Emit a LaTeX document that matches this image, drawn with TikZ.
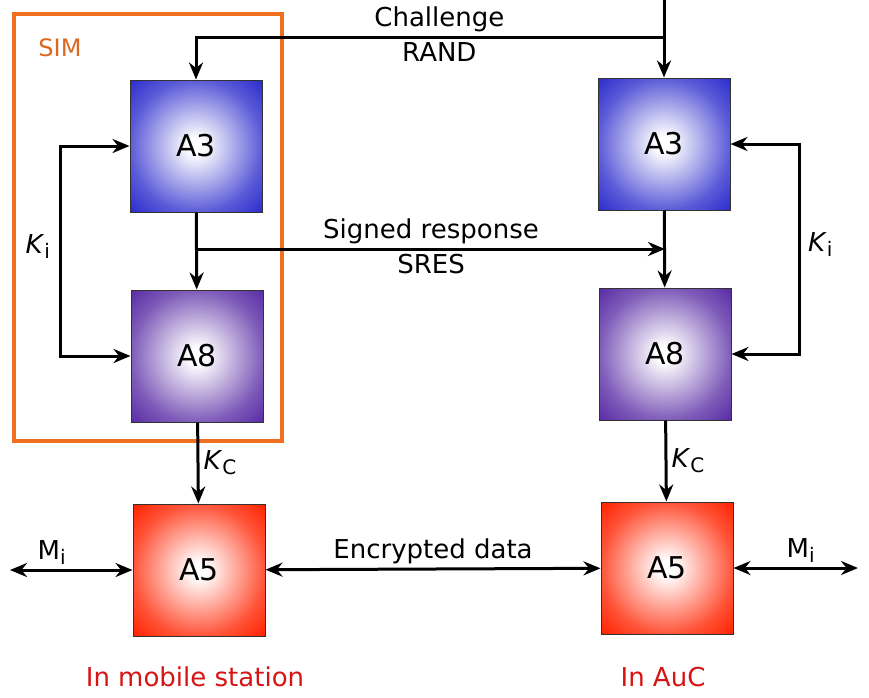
\documentclass[tikz,border=0pt]{standalone}
\usepackage{fontspec}
\setmainfont{DejaVu Sans}
\usetikzlibrary{arrows.meta}

\definecolor{simorange}{RGB}{240,112,32}
\definecolor{athree}{RGB}{45,45,205}
\definecolor{aeight}{RGB}{90,45,165}
\definecolor{afive}{RGB}{255,35,0}
\definecolor{placered}{RGB}{215,20,20}

\pgfdeclareradialshading{athreeglow}{\pgfpoint{0bp}{0bp}}{color(0bp)=(white); color(3bp)=(white); color(25bp)=(athree!78!white); color(35bp)=(athree); color(50bp)=(athree)}
\pgfdeclareradialshading{aeightglow}{\pgfpoint{0bp}{0bp}}{color(0bp)=(white); color(3bp)=(white); color(25bp)=(aeight!78!white); color(35bp)=(aeight); color(50bp)=(aeight)}
\pgfdeclareradialshading{afiveglow}{\pgfpoint{0bp}{0bp}}{color(0bp)=(white); color(3bp)=(white); color(25bp)=(afive!78!white); color(35bp)=(afive); color(50bp)=(afive)}

\newcommand\lowidx[1]{\raisebox{-0.35ex}{\fontsize{20}{20}\selectfont #1}}

\begin{document}
\begin{tikzpicture}[x=1pt,y=-1pt,line width=3pt,
  >={Stealth[length=17pt,width=14pt]},
  algobox/.style={draw=black!80,line width=1pt,minimum size=132pt,inner sep=0pt,font=\fontsize{30}{30}\selectfont},
  lbl/.style={inner sep=4pt,font=\fontsize{26}{28}\selectfont},
  placetext/.style={text=placered,font=\fontsize{26}{28}\selectfont}]
\useasboundingbox (0,0) rectangle (869,697);

%% SIM frame
\draw [simorange, line width=4.5pt] (14,14) rectangle (282,441);
\node [text=simorange!92!black, font=\fontsize{24}{26}\selectfont] (simlabel) at (60,48) {SIM};

%% mobile station side
\node [algobox, shading=athreeglow] (msA3) at (196,146) {A3};
\node [algobox, shading=aeightglow] (msA8) at (197,356) {A8};
\node [algobox, shading=afiveglow] (msA5) at (199,570) {A5};

%% AuC side
\node [algobox, shading=athreeglow] (aucA3) at (664,144) {A3};
\node [algobox, shading=aeightglow] (aucA8) at (665,354) {A8};
\node [algobox, shading=afiveglow] (aucA5) at (667,568) {A5};

\coordinate (chtop) at (664,0);
\coordinate (chsplit) at (664,37);
\coordinate (sresL) at (197,249);
\coordinate (sresR) at (665,249);
\coordinate (miL) at (10,570);
\coordinate (miR) at (858,568);

%challenge
\draw [->] (chtop)--(aucA3);
\draw [->] (chsplit)--(chsplit -| msA3.north)
  node[lbl, pos=0.48, above]{Challenge}
  node[lbl, pos=0.48, below]{RAND} --(msA3);

%signed response
\draw [->] (msA3)--(msA8);
\draw [->] (aucA3)--(aucA8);
\draw [->] (sresL)--(sresR)
  node[lbl, pos=0.5, above]{Signed response}
  node[lbl, pos=0.5, below]{SRES};

%K_i
\draw [<->] (msA3.west)--++(-69,0)|-(msA8.west)
  node[lbl, pos=0.24, left=5pt]{\textit{K}\lowidx{i}};
\draw [<->] (aucA3.east)--++(69,0)|-(aucA8.east)
  node[lbl, pos=0.24, right=3pt]{\textit{K}\lowidx{i}};

%K_c
\draw [->] (msA8)--(msA5) node[lbl, midway, right]{\textit{K}\lowidx{C}};
\draw [->] (aucA8)--(aucA5) node[lbl, midway, right]{\textit{K}\lowidx{C}};

%encrypted data, M_i
\draw [<->] (msA5)--(aucA5) node[lbl, midway, above]{Encrypted data};
\draw [<->] (msA5.west)--(miL) node[lbl, pos=0.66, above]{M\lowidx{i}};
\draw [<->] (aucA5.east)--(miR) node[lbl, pos=0.54, above]{M\lowidx{i}};

%% places
\node [placetext] (mslabel) at (195,677) {In mobile station};
\node [placetext] (auclabel) at (663,677) {In AuC};

\end{tikzpicture}
\end{document}
